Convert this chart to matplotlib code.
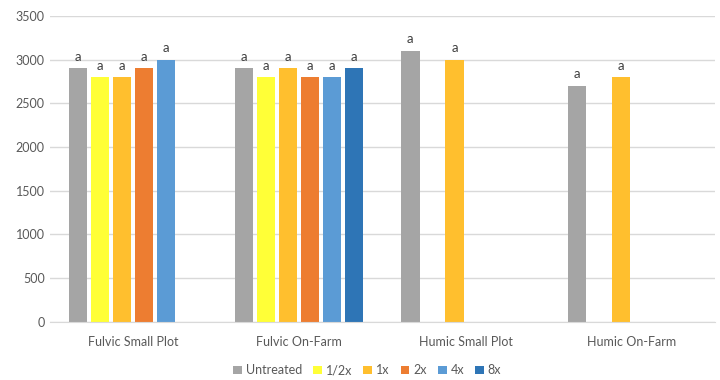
import matplotlib.pyplot as plt
import numpy as np

categories = ['Fulvic Small Plot', 'Fulvic On-Farm', 'Humic Small Plot', 'Humic On-Farm']
series_names = ['Untreated', '1/2x', '1x', '2x', '4x', '8x']
untreated = [2900, 2900, 3100, 2700]
half_x = [2800, 2800, np.nan, np.nan]
one_x = [2800, 2900, 3000, 2800]
two_x = [2900, 2800, np.nan, np.nan]
four_x = [3000, 2800, np.nan, np.nan]
eight_x = [np.nan, 2900, np.nan, np.nan]
letters = 'a'
colors = ['#A5A5A5', '#FFFF37', '#FFBF2E', '#ED7D31', '#5B9BD5', '#2E75B6']

plt.rcParams['font.family'] = ['Lato', 'DejaVu Sans']

fig = plt.figure(figsize=(7.2, 3.8), dpi=100)
ax = fig.add_axes([0.069, 0.153, 0.924, 0.805])

all_series = [untreated, half_x, one_x, two_x, four_x, eight_x]
x = np.arange(len(categories))
step = 0.1325
width = 0.11
for i, (name, vals, c) in enumerate(zip(series_names, all_series, colors)):
    pos = x + (i - 2.5) * step
    vals = np.array(vals, dtype=float)
    ax.bar(pos, vals, width=width, color=c, label=name, zorder=2)
    for p, v in zip(pos, vals):
        if not np.isnan(v):
            ax.annotate(letters, (p, v), xytext=(0, 4), textcoords='offset points',
                        ha='center', va='bottom', fontsize=9.5, color='#404040')

ax.set_xlim(-0.5, len(categories) - 0.5)
ax.set_ylim(0, 3500)
ax.set_yticks(range(0, 3501, 500))
ax.set_xticks(x)
ax.set_xticklabels(categories)
ax.yaxis.grid(True, color='#D9D9D9', linewidth=1, zorder=0)
ax.tick_params(axis='both', length=0, labelsize=9, colors='#595959')
ax.tick_params(axis='x', pad=10)
for s in ['top', 'right', 'left']:
    ax.spines[s].set_visible(False)
ax.spines['bottom'].set_color('#D9D9D9')

leg = fig.legend(loc='lower center', bbox_to_anchor=(0.51, -0.02), ncol=6, frameon=False,
                 fontsize=9, handlelength=0.7, handleheight=0.7, handletextpad=0.3,
                 columnspacing=0.9)
for t in leg.get_texts():
    t.set_color('#595959')

fig.savefig('out.png', dpi=100)
